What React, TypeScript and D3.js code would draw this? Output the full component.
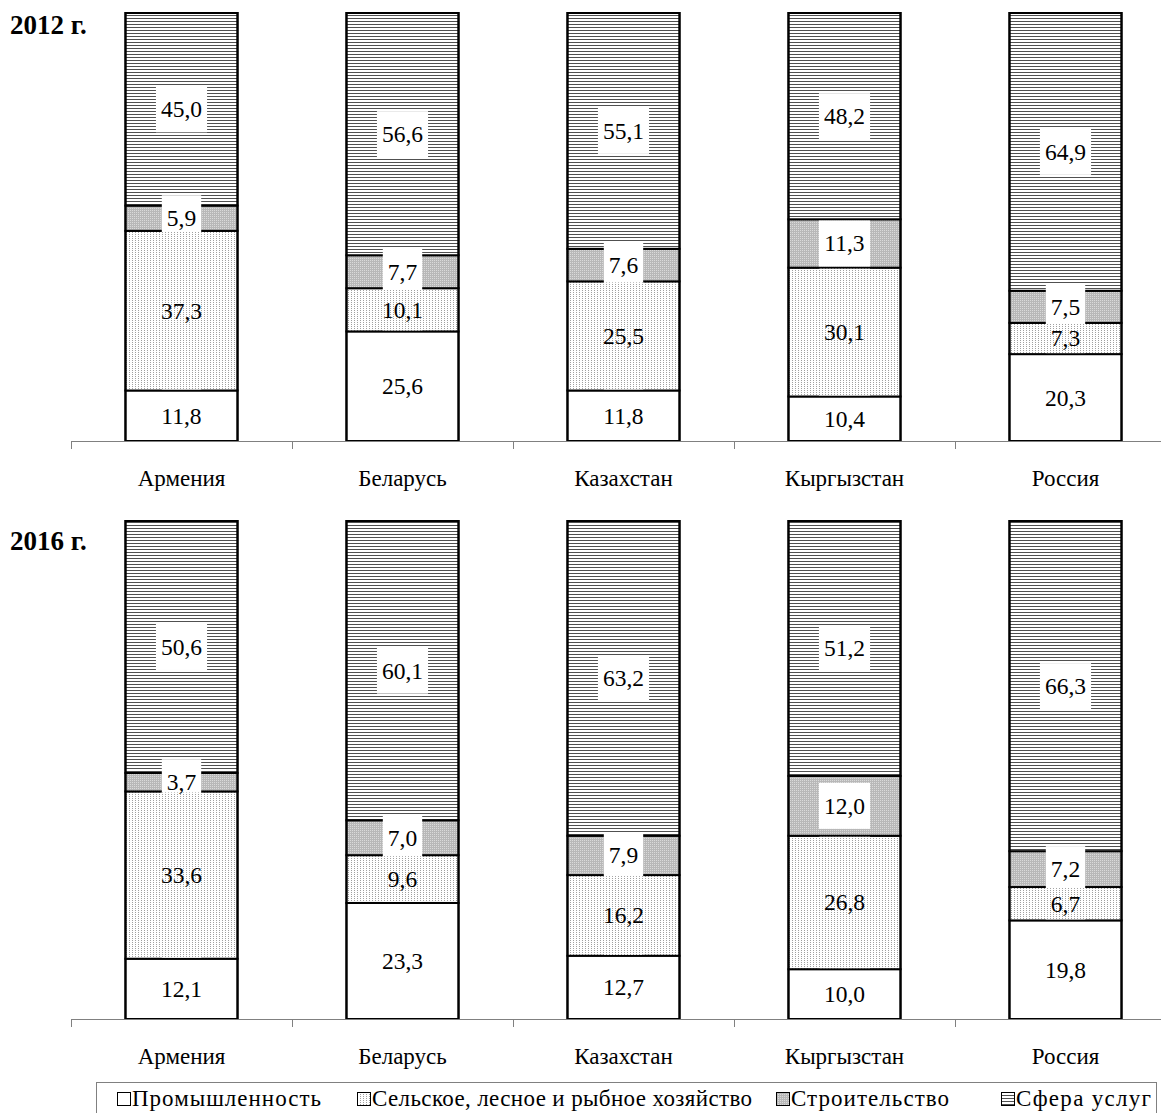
import React from "react";
import * as d3 from "d3";

const countries = ["Армения", "Беларусь", "Казахстан", "Кыргызстан", "Россия"];
const seriesNames = ["Промышленность", "Сельское, лесное и рыбное хозяйство", "Строительство", "Сфера услуг"];
const years = ["2012 г.", "2016 г."];

const industry2012 = [11.8, 25.6, 11.8, 10.4, 20.3];
const agri2012 = [37.3, 10.1, 25.5, 30.1, 7.3];
const constr2012 = [5.9, 7.7, 7.6, 11.3, 7.5];
const services2012 = [45.0, 56.6, 55.1, 48.2, 64.9];

const industry2016 = [12.1, 23.3, 12.7, 10.0, 19.8];
const agri2016 = [33.6, 9.6, 16.2, 26.8, 6.7];
const constr2016 = [3.7, 7.0, 7.9, 12.0, 7.2];
const services2016 = [50.6, 60.1, 63.2, 51.2, 66.3];

const W = 1161;
const H = 1113;
const FONT = "'Liberation Serif', 'Times New Roman', serif";
const fills = ["#ffffff", "url(#pAgri)", "url(#pConstr)", "url(#pServ)"];
const VFS = 23.5;

const fmt = (v: number) => v.toFixed(1).replace(".", ",");

const x = d3
  .scaleBand<string>()
  .domain(countries)
  .range([71, 71 + 5 * 221])
  .paddingInner(0.493)
  .paddingOuter(0.2465);

function Panel({ data, top, bottom, year, yearY, labelY }: any) {
  const y = d3.scaleLinear().domain([0, 100]).range([bottom, top]);
  const stack = d3.stack<any>().keys(["0", "1", "2", "3"]);
  const rows = countries.map((c, i) => {
    const o: any = { c };
    data.forEach((s: number[], k: number) => (o[String(k)] = s[i]));
    return o;
  });
  const series = stack(rows);
  const bw = x.bandwidth();
  const ticks = d3.range(6).map((i) => 71 + i * x.step());
  return (
    <g>
      <text x={10} y={yearY} fontFamily={FONT} fontWeight="bold" fontSize={27}>
        {year}
      </text>
      {countries.map((c, i) => {
        const x0 = x(c)!;
        const segs = series.map((s) => ({ y0: y(s[i][0]), y1: y(s[i][1]), v: s[i][1] - s[i][0] }));
        const boxes = segs.map((sg) => {
          const t = fmt(sg.v);
          const tw = ((t.length - 1) * 0.5 + 0.25) * VFS;
          const cy = (sg.y0 + sg.y1) / 2;
          return { t, tw, cx: x0 + bw / 2, cy };
        });
        return (
          <g key={c}>
            {segs.map((sg, k) => (
              <rect key={k} x={x0} y={sg.y1} width={bw} height={sg.y0 - sg.y1} fill={fills[k]} stroke="#000" strokeWidth={2} />
            ))}
            {[2, 3].map((k) => {
              const b = boxes[k];
              const bwid = b.tw + 10;
              return <rect key={"b" + k} x={b.cx - bwid / 2} y={b.cy - 23} width={bwid} height={46} fill="#fff" />;
            })}
            {(() => {
              const b = boxes[2];
              const bwid = b.tw + 10;
              const sg = segs[1];
              return (
                <rect x={b.cx - bwid / 2} y={sg.y1 + 1} width={bwid} height={Math.max(0, sg.y0 - sg.y1 - 2)} fill={fills[1]} />
              );
            })()}
            <rect x={x0} y={top} width={bw} height={bottom - top} fill="none" stroke="#000" strokeWidth={2} />
            {boxes.map((b, k) => (
              <text key={"t" + k} x={b.cx} y={b.cy + 8} textAnchor="middle" fontFamily={FONT} fontSize={VFS} fill="#000">
                {b.t}
              </text>
            ))}
            <text x={x0 + bw / 2} y={labelY} textAnchor="middle" fontFamily={FONT} fontSize={23} fill="#000">
              {c}
            </text>
          </g>
        );
      })}
      <line x1={71} x2={W} y1={bottom + 0.5} y2={bottom + 0.5} stroke="#808080" strokeWidth={1} />
      {ticks.map((t) => (
        <line key={t} x1={t + 0.5} x2={t + 0.5} y1={bottom} y2={bottom + 8} stroke="#808080" strokeWidth={1} />
      ))}
    </g>
  );
}

const legendX = [117, 357, 776, 1001];
const legendTextW = [189, 380, 158, 135];

export default function App() {
  return (
    <svg width={W} height={H} style={{ position: "absolute", left: 0, top: 0, background: "#fff" }}>
      <defs>
        <pattern id="pServ" patternUnits="userSpaceOnUse" width={4} height={3}>
          <rect width={4} height={3} fill="#fff" />
          <rect width={4} height={1} fill="#505050" />
        </pattern>
        <pattern id="pConstr" patternUnits="userSpaceOnUse" width={2} height={2}>
          <rect width={2} height={2} fill="#b8b8b8" />
          <rect width={1} height={1} fill="#dadada" />
        </pattern>
        <pattern id="pAgri" patternUnits="userSpaceOnUse" width={3} height={2}>
          <rect width={3} height={2} fill="#fff" />
          <rect width={1} height={1} fill="#a0a0a0" />
        </pattern>
      </defs>
      <Panel
        data={[industry2012, agri2012, constr2012, services2012]}
        top={13}
        bottom={441}
        year={years[0]}
        yearY={34}
        labelY={486}
      />
      <Panel
        data={[industry2016, agri2016, constr2016, services2016]}
        top={521}
        bottom={1019}
        year={years[1]}
        yearY={550}
        labelY={1064}
      />
      <rect x={96.5} y={1082.5} width={1060} height={40} fill="none" stroke="#808080" strokeWidth={1} />
      {seriesNames.map((s, k) => (
        <g key={s}>
          <rect x={legendX[k] + 0.5} y={1092.5} width={13} height={13} fill={fills[k]} stroke="#000" strokeWidth={1} />
          <text
            x={legendX[k] + 15}
            y={1106}
            fontFamily={FONT}
            fontSize={23}
            fill="#000"
            textLength={legendTextW[k]}
            lengthAdjust="spacing"
          >
            {s}
          </text>
        </g>
      ))}
    </svg>
  );
}
